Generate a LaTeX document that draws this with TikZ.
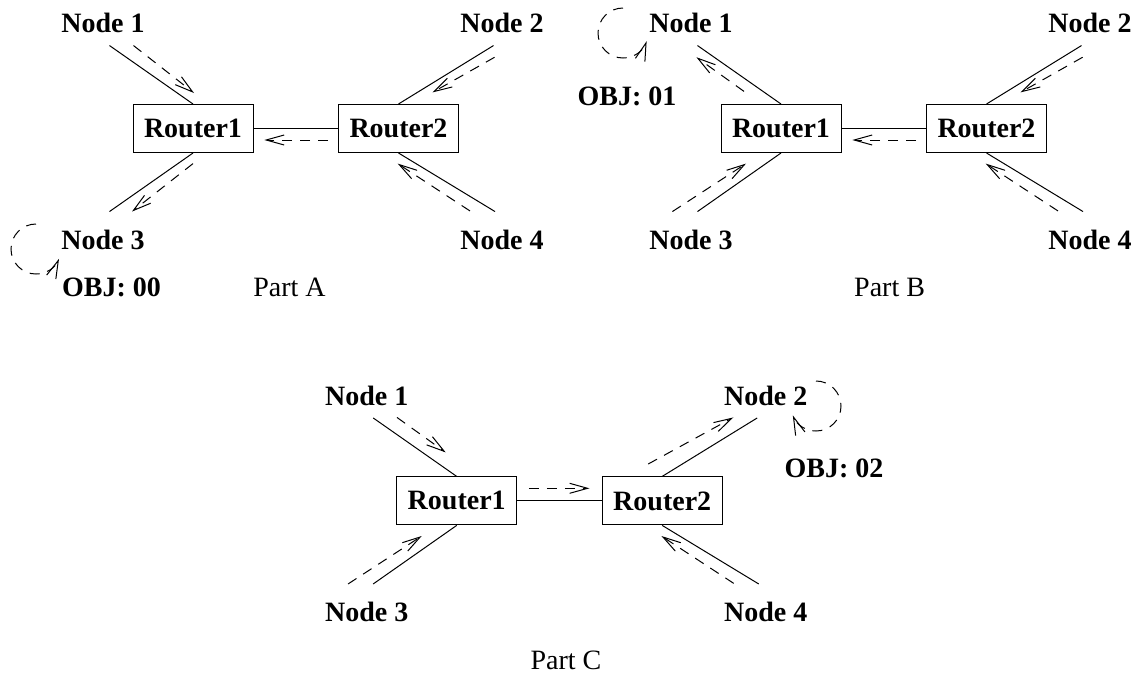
\documentclass[tikz,border=0pt]{standalone}
\usepackage{fontspec}
\setmainfont{Liberation Serif}
\usepackage{tikz}
\usetikzlibrary{arrows.meta}
\tikzset{%
	host/.style={
		font=\fontsize{14}{16}\selectfont\bfseries,
		inner sep=0pt
	},
	router/.style={
		draw,
		line width=0.5pt,
		minimum width=60pt,
		minimum height=24pt,
		inner sep=0pt,
		font=\fontsize{14}{16}\selectfont\bfseries
	},
	wire/.style={line width=0.5pt},
	msg/.style={
		line width=0.5pt,
		dash pattern=on 5pt off 4pt,
		-{Straight Barb[length=9pt,width=5pt]}
	},
	caption/.style={font=\fontsize{14}{16}\selectfont, inner sep=0pt},
}

\begin{document}
\begin{tikzpicture}[x=0.5pt,y=-0.5pt]
	\useasboundingbox (0,0) rectangle (1135,675);
	% One network: four hosts, two routers and the wires between them
	\newcommand{\drawnet}[1]{%
		\foreach \k/\px/\py in {1/103/23.3, 2/502/23.3, 3/103/240, 4/502/240} {
			\node[host] (#1n\k) at (\px,\py) {Node \k};
		}
		\node[router] (#1r1) at (193,128.5) {Router1};
		\node[router] (#1r2) at (398.5,128.5) {Router2};
		\draw[wire] ([shift={(6.5,12)}]#1n1.south) -- (#1r1.north);
		\draw[wire] ([shift={(-8.5,12)}]#1n2.south) -- (#1r2.north);
		\draw[wire] (#1r1.south) -- ([shift={(6.5,-18.2)}]#1n3.north);
		\draw[wire] (#1r2.south) -- ([shift={(-7,-18.2)}]#1n4.north);
		\draw[wire] (#1r1.east) -- (#1r2.west);
	}
	
	% Part A
	\begin{scope}
		\drawnet{a}
		\draw[msg] ([shift={(30.5,12)}]an1.south) -- ([shift={(1,-11)}]ar1.north);
		\draw[msg] ([shift={(-7.4,23.7)}]an2.south) -- ([shift={(34,-11.6)}]ar2.north);
		\draw[msg] ([shift={(0,10.6)}]ar1.south) -- ([shift={(29,-18.2)}]an3.north);
		\draw[msg] ([shift={(-32,-18.8)}]an4.north) -- ([shift={(-0.8,10.6)}]ar2.south);
		\draw[msg] ([shift={(-10,11.5)}]ar2.west) -- ([shift={(10.8,11.5)}]ar1.east);
		\coordinate (aloop) at (36,249);
		\draw[msg] (aloop) ++(-90:25) arc[start angle=-90, end angle=-337, radius=25];
		\node[host] (aobj) at (111.5,287) {OBJ: 00};
		\node[caption] (apart) at (289.5,287) {Part A};
	\end{scope}
	
	% Part B
	\begin{scope}[shift={(588,0)}]
		\drawnet{b}
		\draw[msg] ([shift={(-37,-12.6)}]br1.north) -- ([shift={(5.4,23.7)}]bn1.south);
		\draw[msg] ([shift={(-7.4,23.7)}]bn2.south) -- ([shift={(34,-11.6)}]br2.north);
		\draw[msg] ([shift={(-18.6,-18.2)}]bn3.north) -- ([shift={(-35,10.6)}]br1.south);
		\draw[msg] ([shift={(-32,-18.8)}]bn4.north) -- ([shift={(-0.8,10.6)}]br2.south);
		\draw[msg] ([shift={(-10,11.5)}]br2.west) -- ([shift={(10.8,11.5)}]br1.east);
		\coordinate (bloop) at (35,33);
		\draw[msg] (bloop) ++(-90:25) arc[start angle=-90, end angle=-341, radius=25];
		\node[host] (bobj) at (39,96.7) {OBJ: 01};
		\node[caption] (bpart) at (301.6,287) {Part B};
	\end{scope}
	
	% Part C
	\begin{scope}[shift={(263.7,372.4)}]
		\drawnet{c}
		\draw[msg] ([shift={(30.3,11.5)}]cn1.south) -- ([shift={(-11,-24)}]cr1.north);
		\draw[msg] ([shift={(-14,-12.4)}]cr2.north) -- ([shift={(-32.4,11.5)}]cn2.south);
		\draw[msg] ([shift={(-18.6,-18.2)}]cn3.north) -- ([shift={(-35,10.6)}]cr1.south);
		\draw[msg] ([shift={(-32,-18.8)}]cn4.north) -- ([shift={(-0.8,10.6)}]cr2.south);
		\draw[msg] ([shift={(11.6,-12.6)}]cr1.east) -- ([shift={(-12.2,-12.6)}]cr2.west);
		\coordinate (cloop) at (552.3,33.6);
		\draw[msg] (cloop) ++(-90:25) arc[start angle=-90, end angle=158, radius=25];
		\node[host] (cobj) at (570.3,95.9) {OBJ: 02};
		\node[caption] (cpart) at (302.3,287.6) {Part C};
	\end{scope}
\end{tikzpicture}
\end{document}
